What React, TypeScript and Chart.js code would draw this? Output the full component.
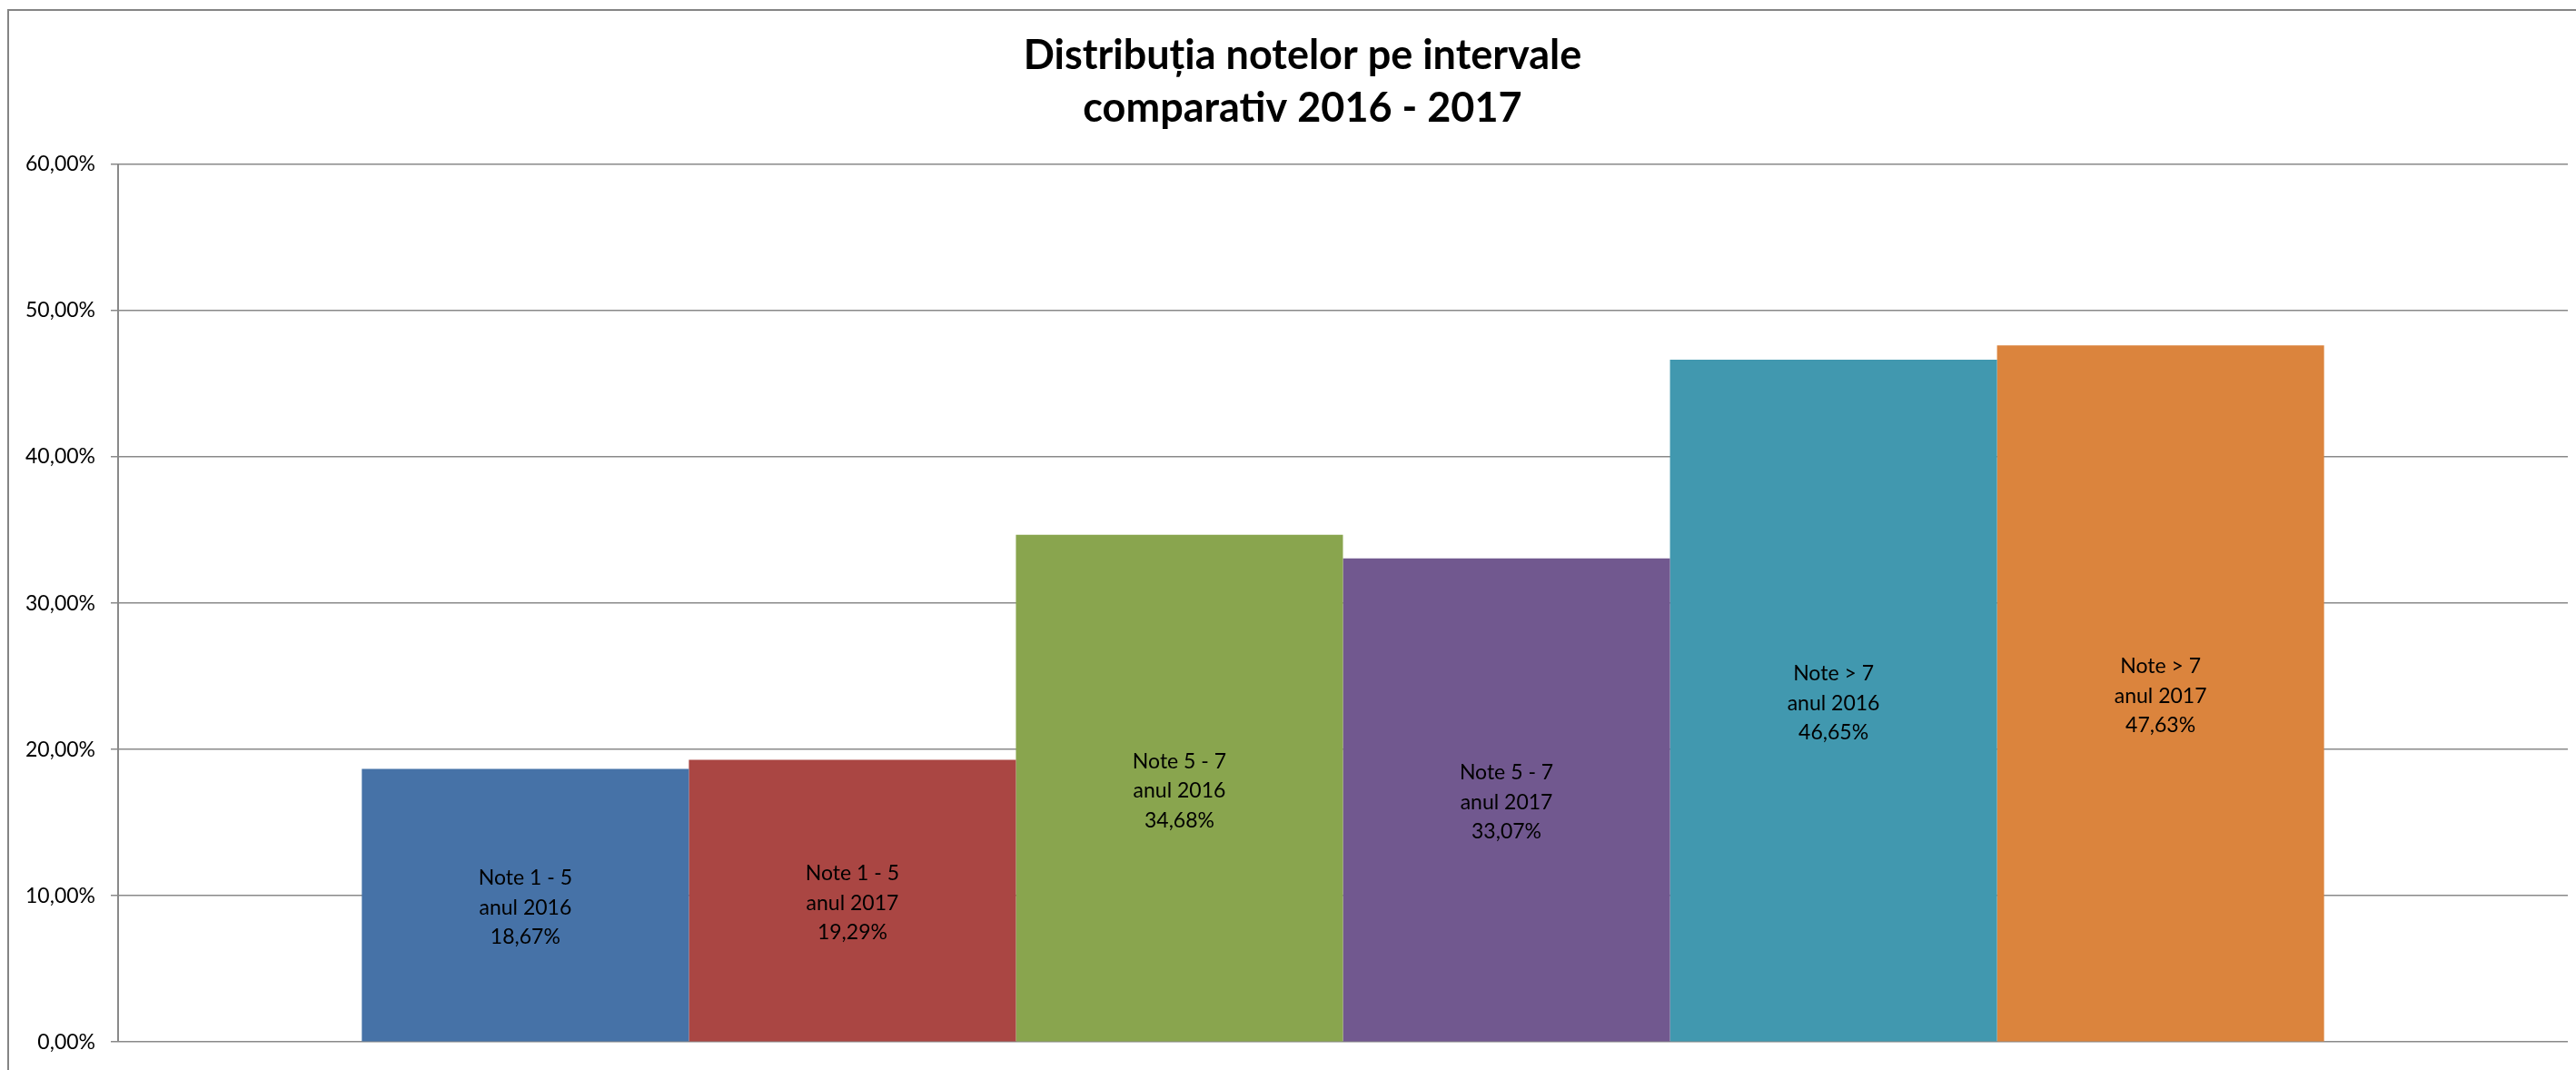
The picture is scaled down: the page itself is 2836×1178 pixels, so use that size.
import React, { useEffect, useRef } from "react";
import { Chart, registerables } from "chart.js";

Chart.register(...registerables);

const titleLines = ["Distribuția notelor pe intervale", "comparativ 2016 - 2017"];
const categories = [""];
const intervals = ["Note 1 - 5", "Note 1 - 5", "Note 5 - 7", "Note 5 - 7", "Note > 7", "Note > 7"];
const years = ["anul 2016", "anul 2017", "anul 2016", "anul 2017", "anul 2016", "anul 2017"];
const values = [18.67, 19.29, 34.68, 33.07, 46.65, 47.63];
const colors = ["#4672A7", "#AA4643", "#89A54E", "#71588F", "#4198AF", "#DB843D"];
const yTicks = [0, 10, 20, 30, 40, 50, 60];

const FONT = "Lato, 'Open Sans', sans-serif";
const GRID = "#898989";
const CANVAS_W = 2868;
const CANVAS_H = 1178;

const fmt = (v: number) => v.toFixed(2).replace(".", ",") + "%";

const barLabels = {
  id: "barLabels",
  afterDatasetsDraw(chart: any) {
    const ctx = chart.ctx;
    ctx.save();
    ctx.font = `23px ${FONT}`;
    ctx.fillStyle = "#000000";
    ctx.textAlign = "center";
    ctx.textBaseline = "middle";
    chart.data.datasets.forEach((ds: any, i: number) => {
      const meta = chart.getDatasetMeta(i);
      const el = meta.data[0];
      if (!el) return;
      const cx = el.x;
      const cy = (el.y + el.base) / 2 + 3;
      const lines = [intervals[i], years[i], fmt(ds.data[0])];
      lines.forEach((t, k) => ctx.fillText(t, cx, cy + (k - 1) * 32.5));
    });
    ctx.restore();
  },
};

// The original chart frame is cropped on the right: shift the title's box to match.
const titleFrame = {
  id: "titleFrame",
  afterLayout(chart: any) {
    const t = chart.titleBlock;
    if (t) {
      t.left = 41;
      t.width = t.right - t.left;
    }
  },
};

export default function App() {
  const ref = useRef<HTMLCanvasElement | null>(null);
  useEffect(() => {
    if (!ref.current) return;
    const chart = new Chart(ref.current, {
      type: "bar",
      data: {
        labels: categories,
        datasets: values.map((v, i) => ({
          label: `${intervals[i]} ${years[i]}`,
          data: [v],
          backgroundColor: colors[i],
          borderWidth: 0,
          categoryPercentage: 0.801,
          barPercentage: 1,
        })),
      },
      options: {
        animation: false,
        responsive: false,
        devicePixelRatio: 1,
        layout: { padding: { left: 0, right: CANVAS_W - 2827, top: 0, bottom: 26 } },
        plugins: {
          legend: { display: false },
          tooltip: { enabled: false },
          title: {
            display: true,
            text: titleLines,
            color: "#000000",
            font: { family: FONT, size: 45, weight: "bold", lineHeight: 58 / 45 },
            padding: { top: 32, bottom: 33 },
          },
        },
        scales: {
          x: {
            display: false,
          },
          y: {
            min: 0,
            max: 60,
            afterFit: (scale: any) => {
              scale.width = 130;
            },
            afterBuildTicks: (scale: any) => {
              scale.ticks = yTicks.map((v) => ({ value: v }));
            },
            ticks: {
              callback: (v: any) => fmt(Number(v)),
              color: "#000000",
              font: { family: FONT, size: 23 },
              padding: 17,
            },
            grid: {
              color: GRID,
              lineWidth: 1.5,
              tickLength: 8,
              tickColor: GRID,
              drawTicks: true,
            },
            border: { display: true, color: GRID, width: 2 },
          },
        },
      },
      plugins: [barLabels, titleFrame],
    });
    return () => chart.destroy();
  }, []);

  return (
    <div
      style={{
        position: "fixed",
        left: 0,
        top: 0,
        width: 2836,
        height: 1178,
        overflow: "hidden",
        background: "#ffffff",
      }}
    >
      <div
        style={{
          position: "absolute",
          left: 8,
          top: 10,
          width: 3000,
          height: 1400,
          borderLeft: "2px solid #858585",
          borderTop: "2px solid #858585",
        }}
      />
      <canvas
        ref={ref}
        width={CANVAS_W}
        height={CANVAS_H}
        style={{ position: "absolute", left: 0, top: 0, width: CANVAS_W, height: CANVAS_H }}
      />
    </div>
  );
}
